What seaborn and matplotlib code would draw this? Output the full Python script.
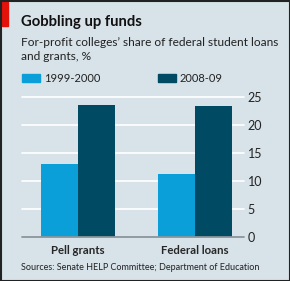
import matplotlib
matplotlib.use("Agg")
import matplotlib.pyplot as plt
import matplotlib.patches as mpatches
import seaborn as sns
import pandas as pd

categories = ["Pell grants", "Federal loans"]
series = ["1999-2000", "2008-09"]
values_1999 = [13.0, 11.2]
values_2008 = [23.6, 23.4]
yticks = [0, 5, 10, 15, 20, 25]

BG = "#d7e2e9"
C1 = "#0a9fd8"
C2 = "#004a64"
palette = {series[0]: C1, series[1]: C2}

df = pd.DataFrame({
    "category": categories * 2,
    "series": [series[0]] * 2 + [series[1]] * 2,
    "value": values_1999 + values_2008,
})

sns.set_style("white")
plt.rcParams["font.family"] = ["Lato", "DejaVu Sans"]

W, H = 290, 281
fig = plt.figure(figsize=(W / 100, H / 100), dpi=100, facecolor=BG)
ax = fig.add_axes([22 / W, 44 / H, 220 / W, 140 / H])
ax.set_facecolor(BG)

sns.barplot(data=df, x="category", y="value", hue="series", palette=palette,
            width=0.632, ax=ax, legend=False, saturation=1, linewidth=0)

ax.set_ylim(0, 25)
ax.set_xlim(-0.479, 1.402)
ax.set_yticks(yticks)
ax.yaxis.tick_right()
ax.tick_params(axis="y", length=0, pad=4, labelsize=9, labelcolor="#222222")
ax.tick_params(axis="x", length=0, pad=6, labelsize=8.2)
for lbl in ax.get_xticklabels():
    lbl.set_fontweight("bold")
ax.set_xlabel("")
ax.set_ylabel("")
for s in ax.spines.values():
    s.set_visible(False)
for t in yticks[1:]:
    ax.axhline(t, color="white", lw=1.2, zorder=0, xmax=1.01, clip_on=False)
ax.axhline(0, color="#8a959c", lw=1.3, zorder=3, xmax=1.01, clip_on=False)

# title & texts
fig.text(21 / W, 1 - 22 / H, "Gobbling up funds", fontsize=10.7, fontweight="bold",
         va="center", ha="left", color="#111111")
fig.text(21 / W, 1 - 42 / H, "For-profit colleges\u2019 share of federal student loans",
         fontsize=8.6, va="center", ha="left", color="#222222")
fig.text(21 / W, 1 - 57 / H, "and grants, %", fontsize=8.6, va="center", ha="left",
         color="#222222")

# legend
for x0, lab, col in [(22, series[0], C1), (158, series[1], C2)]:
    fig.patches.append(mpatches.Rectangle((x0 / W, 1 - 82 / H), 18 / W, 8 / H,
                                          transform=fig.transFigure, color=col))
    fig.text((x0 + 22) / W, 1 - 79 / H, lab, fontsize=8.0, va="center", ha="left",
             color="#222222")

fig.text(21 / W, 1 - 268 / H, "Sources: Senate HELP Committee; Department of Education",
         fontsize=6.5, va="center", ha="left", color="#222222")

# red tab and border
fig.patches.append(mpatches.Rectangle((2 / W, 1 - 26 / H), 6 / W, 24 / H,
                                      transform=fig.transFigure, color="#e3120b"))
fig.patches.append(mpatches.Rectangle((0.5 / W, 0.5 / H), (W - 1) / W, (H - 1) / H,
                                      transform=fig.transFigure, fill=False,
                                      edgecolor="#222222", lw=1.5))

fig.savefig("out.png", dpi=100, facecolor=BG)
